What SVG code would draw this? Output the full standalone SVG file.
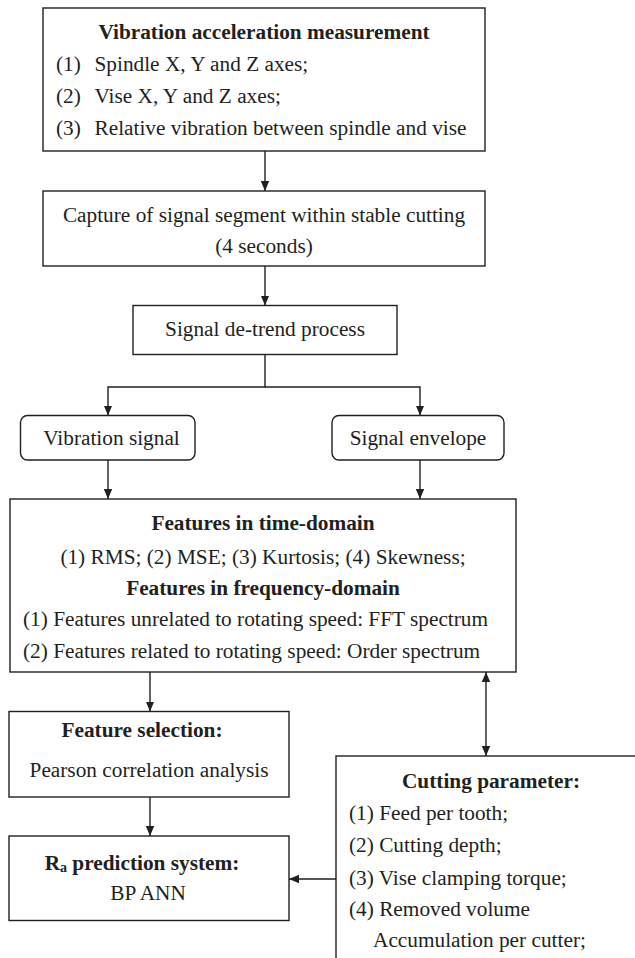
<svg xmlns="http://www.w3.org/2000/svg" width="635" height="958" viewBox="0 0 635 958">
<style>
.box{fill:#fff;stroke:#231f20;stroke-width:1.4}
.t{font-family:"Liberation Serif","Times New Roman",serif;font-size:21.3px;fill:#231f20}
.b{font-weight:bold}
.c{text-anchor:middle}
.ln{stroke:#231f20;stroke-width:1.4;fill:none}
</style>
<defs>
<marker id="ah" markerUnits="userSpaceOnUse" markerWidth="10" markerHeight="10" refX="10" refY="5" orient="auto-start-reverse">
<path d="M0,0.8 L10,5 L0,9.2 z" fill="#231f20"/>
</marker>
</defs>
<rect width="635" height="958" fill="#fff"/>
<g id="connectors">
<line class="ln" x1="265" y1="151" x2="265" y2="191" marker-end="url(#ah)"/>
<line class="ln" x1="265" y1="266" x2="265" y2="305.5" marker-end="url(#ah)"/>
<polyline class="ln" points="265,354.5 265,387 108,387 108,415.5" marker-end="url(#ah)"/>
<polyline class="ln" points="265,387 420,387 420,415.5" marker-end="url(#ah)"/>
<line class="ln" x1="108" y1="460" x2="108" y2="499" marker-end="url(#ah)"/>
<line class="ln" x1="420" y1="460" x2="420" y2="499" marker-end="url(#ah)"/>
<line class="ln" x1="150" y1="672" x2="150" y2="711.5" marker-end="url(#ah)"/>
<line class="ln" x1="150" y1="797" x2="150" y2="836" marker-end="url(#ah)"/>
<line class="ln" x1="486" y1="672" x2="486" y2="756" marker-start="url(#ah)" marker-end="url(#ah)"/>
<line class="ln" x1="336" y1="879" x2="289" y2="879" marker-end="url(#ah)"/>
</g>
<g id="n1">
<rect class="box" x="43" y="8" width="442" height="143"/>
<text class="t b c" x="264" y="39">Vibration acceleration measurement</text>
<text class="t" x="56" y="71">(1)</text><text class="t" x="94.5" y="71">Spindle X, Y and Z axes;</text>
<text class="t" x="56" y="103">(2)</text><text class="t" x="94.5" y="103">Vise X, Y and Z axes;</text>
<text class="t" x="56" y="135">(3)</text><text class="t" x="94.5" y="135">Relative vibration between spindle and vise</text>
</g>
<g id="n2">
<rect class="box" x="43" y="191" width="442" height="75"/>
<text class="t c" x="264" y="222">Capture of signal segment within stable cutting</text>
<text class="t c" x="264" y="253">(4 seconds)</text>
</g>
<g id="n3">
<rect class="box" x="133" y="305.5" width="264" height="49"/>
<text class="t c" x="265" y="336">Signal de-trend process</text>
</g>
<g id="n4">
<rect class="box" x="20.5" y="415.5" width="174.5" height="44.5" rx="7"/>
<text class="t c" x="111.5" y="445">Vibration signal</text>
</g>
<g id="n5">
<rect class="box" x="332" y="415.5" width="172" height="44.5" rx="7"/>
<text class="t c" x="418" y="445">Signal envelope</text>
</g>
<g id="n6">
<rect class="box" x="10" y="499" width="506" height="173"/>
<text class="t b c" x="263" y="530">Features in time-domain</text>
<text class="t c" x="263" y="564">(1) RMS; (2) MSE; (3) Kurtosis; (4) Skewness;</text>
<text class="t b c" x="263" y="595">Features in frequency-domain</text>
<text class="t" x="23" y="626">(1) Features unrelated to rotating speed: FFT spectrum</text>
<text class="t" x="23" y="658">(2) Features related to rotating speed: Order spectrum</text>
</g>
<g id="n7">
<rect class="box" x="9" y="711.5" width="280" height="85.5"/>
<text class="t b c" x="142" y="737">Feature selection:</text>
<text class="t c" x="149" y="777">Pearson correlation analysis</text>
</g>
<g id="n8">
<rect class="box" x="9" y="836" width="280" height="84.5"/>
<text class="t b c" x="142" y="870">R<tspan font-size="14" dy="2">a</tspan><tspan dy="-2"> prediction system:</tspan></text>
<text class="t c" x="148" y="900">BP ANN</text>
</g>
<g id="n9">
<rect class="box" x="336" y="756" width="310" height="215"/>
<text class="t b c" x="491" y="788">Cutting parameter:</text>
<text class="t" x="349" y="820">(1) Feed per tooth;</text>
<text class="t" x="349" y="852">(2) Cutting depth;</text>
<text class="t" x="349" y="885">(3) Vise clamping torque;</text>
<text class="t" x="349" y="916">(4) Removed volume</text>
<text class="t" x="373" y="947">Accumulation per cutter;</text>
</g>
</svg>
